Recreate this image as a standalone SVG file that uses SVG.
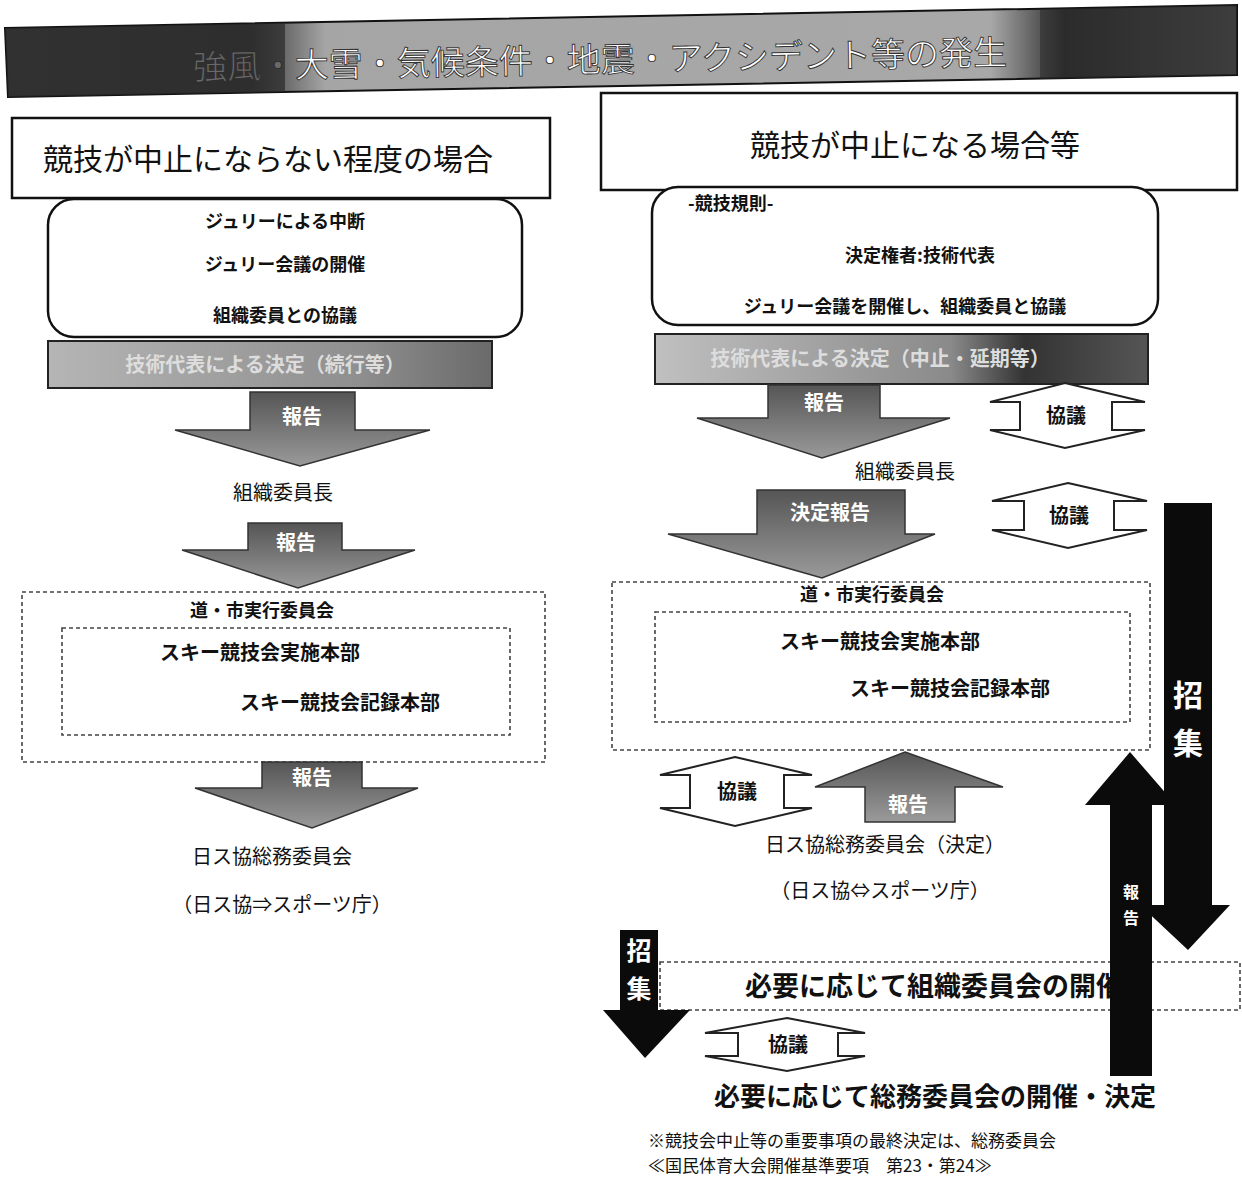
<svg xmlns="http://www.w3.org/2000/svg" width="1242" height="1190" viewBox="0 0 1242 1190">
<defs>
<style>
text{font-family:"Noto Sans CJK JP","Noto Sans CJK SC",sans-serif;fill:#111}
.hdr{font-size:30px}
.t{font-size:18px;font-weight:bold}
.m{font-size:20px;font-weight:bold}
.box{fill:#fff;stroke:#111;stroke-width:2.5}
.bar{fill:url(#barg);stroke:#222;stroke-width:2}
.dash{fill:none;stroke:#444;stroke-width:1.6;stroke-dasharray:4 3}
.arr{fill:url(#arrg);stroke:#333;stroke-width:1.5}
.dbl{fill:#fff;stroke:#222;stroke-width:2}
.blk{fill:#0b0b0b}
.wl{fill:#fff;font-weight:bold}
.dl{fill:#111;font-weight:bold}
.bigb{font-size:26px;font-weight:bold}
.note{font-size:17px}
</style>
<linearGradient id="titleg" x1="0" y1="0" x2="1" y2="0">
<stop offset="0" stop-color="#444"/><stop offset="0.2" stop-color="#3a3a3a"/><stop offset="0.26" stop-color="#a5a5a5"/><stop offset="0.8" stop-color="#a8a8a8"/><stop offset="0.86" stop-color="#2e2e2e"/><stop offset="1" stop-color="#555"/>
</linearGradient>
<linearGradient id="barg" x1="0" y1="0" x2="1" y2="0">
<stop offset="0" stop-color="#b5b5b5"/><stop offset="0.7" stop-color="#8f8f8f"/><stop offset="1" stop-color="#6a6a6a"/>
</linearGradient>
<linearGradient id="barg2" x1="0" y1="0" x2="1" y2="0">
<stop offset="0" stop-color="#c0c0c0"/><stop offset="0.6" stop-color="#8a8a8a"/><stop offset="0.75" stop-color="#333"/><stop offset="1" stop-color="#555"/>
</linearGradient>
<linearGradient id="arrg" x1="0" y1="0" x2="0" y2="1">
<stop offset="0" stop-color="#555"/><stop offset="1" stop-color="#9a9a9a"/>
</linearGradient>
</defs>

<g id="title">
<polygon points="5,28 1237,5 1237,75 8,97" fill="url(#titleg)" stroke="#111" stroke-width="2"/>
<text x="600" y="72" text-anchor="middle" transform="rotate(-1.05 600 60)" style="fill:#fff;stroke:#333;stroke-width:0.9;font-size:34px">強風・大雪・気候条件・地震・アクシデント等の発生</text>
<polygon points="5,28 285,23 285,92 8,97" fill="#2a2a2a" opacity="0.7"/>
<polygon points="1040,9 1237,5 1237,75 1040,79" fill="#2a2a2a" opacity="0.55"/>
</g>

<g id="left-header">
<rect class="box" x="12" y="118" width="538" height="80"/>
<text class="hdr" x="268" y="170" text-anchor="middle">競技が中止にならない程度の場合</text>
</g>

<g id="left-jury">
<rect class="box" x="48" y="199" width="474" height="138" rx="26"/>
<text class="t" x="285" y="228" text-anchor="middle">ジュリーによる中断</text>
<text class="t" x="285" y="271" text-anchor="middle">ジュリー会議の開催</text>
<text class="t" x="285" y="322" text-anchor="middle">組織委員との協議</text>
</g>

<g id="left-decision">
<rect class="bar" x="48" y="341" width="444" height="47"/>
<text x="265" y="372" text-anchor="middle" style="font-size:20px;fill:#ddd;font-weight:bold">技術代表による決定（続行等）</text>
</g>

<g id="left-chair">
<text class="m" x="283" y="500" text-anchor="middle" style="font-weight:normal">組織委員長</text>
</g>

<g id="left-exec">
<rect class="dash" x="22" y="592" width="523" height="170"/>
<text class="t" x="262" y="617" text-anchor="middle">道・市実行委員会</text>
<rect class="dash" x="62" y="628" width="448" height="107"/>
<text class="m" x="260" y="660" text-anchor="middle">スキー競技会実施本部</text>
<text class="m" x="340" y="710" text-anchor="middle">スキー競技会記録本部</text>
</g>

<g id="left-ski">
<text class="m" x="272" y="864" text-anchor="middle" style="font-weight:normal">日ス協総務委員会</text>
<text class="m" x="282" y="912" text-anchor="middle" style="font-weight:normal">（日ス協⇒スポーツ庁）</text>
</g>

<g id="right-header">
<rect class="box" x="601" y="93" width="636" height="97"/>
<text class="hdr" x="915" y="156" text-anchor="middle">競技が中止になる場合等</text>
</g>

<g id="right-rule">
<rect class="box" x="652" y="187" width="506" height="138" rx="26"/>
<text class="t" x="688" y="210">-競技規則-</text>
<text class="t" x="920" y="262" text-anchor="middle">決定権者:技術代表</text>
<text class="t" x="905" y="313" text-anchor="middle">ジュリー会議を開催し、組織委員と協議</text>
</g>

<g id="right-decision">
<rect x="655" y="334" width="493" height="50" fill="url(#barg2)" stroke="#222" stroke-width="2"/>
<text x="880" y="366" text-anchor="middle" style="font-size:20px;fill:#ddd;font-weight:bold">技術代表による決定（中止・延期等）</text>
</g>

<g id="right-chair">
<text class="m" x="905" y="479" text-anchor="middle" style="font-weight:normal">組織委員長</text>
</g>

<g id="right-exec">
<rect class="dash" x="612" y="582" width="538" height="168"/>
<text class="t" x="872" y="601" text-anchor="middle">道・市実行委員会</text>
<rect class="dash" x="655" y="612" width="475" height="110"/>
<text class="m" x="880" y="649" text-anchor="middle">スキー競技会実施本部</text>
<text class="m" x="950" y="696" text-anchor="middle">スキー競技会記録本部</text>
</g>

<g id="right-ski">
<text class="m" x="885" y="852" text-anchor="middle" style="font-weight:normal">日ス協総務委員会（決定）</text>
<text class="m" x="880" y="898" text-anchor="middle" style="font-weight:normal">（日ス協⇔スポーツ庁）</text>
</g>

<g id="org-meeting">
<rect class="dash" x="660" y="962" width="580" height="48"/>
<text class="bigb" x="745" y="996" style="font-size:27px">必要に応じて組織委員会の開催</text>
</g>

<g id="general-meeting">
<text class="bigb" x="935" y="1106" text-anchor="middle">必要に応じて総務委員会の開催・決定</text>
<text class="note" x="648" y="1147">※競技会中止等の重要事項の最終決定は、総務委員会</text>
<text class="note" x="648" y="1172">≪国民体育大会開催基準要項　第23・第24≫</text>
</g>

<g id="connectors">
<path class="arr" d="M250,392 H355 V430 H430 L300,466 L175,430 H250 Z"/>
<text class="wl" x="302" y="424" text-anchor="middle" style="font-size:20px">報告</text>
<path class="arr" d="M248,523 H342 V550 H415 L298,588 L182,550 H248 Z"/>
<text class="wl" x="296" y="550" text-anchor="middle" style="font-size:20px">報告</text>
<path class="arr" d="M262,762 H362 V788 H418 L312,828 L195,788 H262 Z"/>
<text class="wl" x="312" y="785" text-anchor="middle" style="font-size:20px">報告</text>

<path class="arr" d="M768,385 H880 V418 H950 L822,458 L697,418 H768 Z"/>
<text class="wl" x="824" y="410" text-anchor="middle" style="font-size:20px">報告</text>
<path class="arr" d="M757,490 H905 V534 H935 L822,578 L668,534 H757 Z"/>
<text class="wl" x="830" y="520" text-anchor="middle" style="font-size:20px">決定報告</text>

<path class="dbl" d="M1065,383 L1145,402 H1112 V430 H1145 L1065,448 L990,430 H1020 V402 H990 Z"/>
<text class="dl" x="1066" y="423" text-anchor="middle" style="font-size:20px">協議</text>
<path class="dbl" d="M1068,483 L1147,501 H1114 V530 H1147 L1068,548 L992,530 H1024 V501 H992 Z"/>
<text class="dl" x="1069" y="523" text-anchor="middle" style="font-size:20px">協議</text>

<path class="dbl" d="M735,757 L812,775 H784 V808 H812 L735,826 L660,808 H690 V775 H660 Z"/>
<text class="dl" x="737" y="799" text-anchor="middle" style="font-size:20px">協議</text>
<path class="arr" d="M905,752 L1003,787 H955 V822 H865 V787 H815 Z"/>
<text class="wl" x="908" y="812" text-anchor="middle" style="font-size:20px">報告</text>

<path class="dbl" d="M787,1018 L865,1033 H838 V1056 H865 L787,1071 L705,1056 H738 V1033 H705 Z"/>
<text class="dl" x="788" y="1052" text-anchor="middle" style="font-size:20px">協議</text>

<path class="blk" d="M1164,503 H1212 V905 H1230 L1188,950 L1140,905 H1164 Z"/>
<text class="wl" x="1188" y="706" text-anchor="middle" style="font-size:30px">招</text>
<text class="wl" x="1188" y="754" text-anchor="middle" style="font-size:30px">集</text>

<path class="blk" d="M1130,752 L1176,805 H1152 V1076 H1110 V805 H1085 Z"/>
<text class="wl" x="1131" y="898" text-anchor="middle" style="font-size:16px">報</text>
<text class="wl" x="1131" y="924" text-anchor="middle" style="font-size:16px">告</text>

<path class="blk" d="M620,930 H658 V1010 H690 L645,1058 L603,1010 H620 Z"/>
<text class="wl" x="639" y="960" text-anchor="middle" style="font-size:25px">招</text>
<text class="wl" x="639" y="998" text-anchor="middle" style="font-size:25px">集</text>
</g>
</svg>
